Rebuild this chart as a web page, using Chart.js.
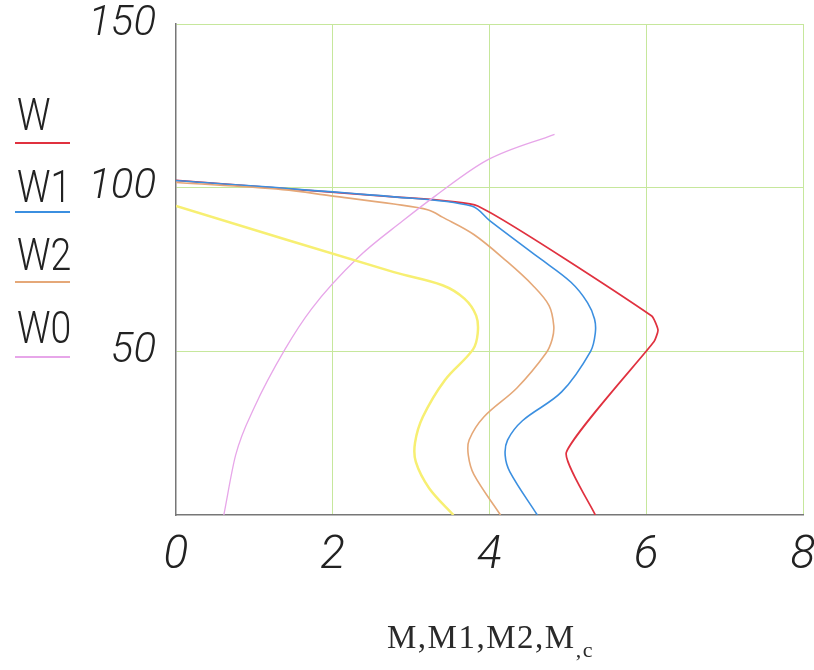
<!DOCTYPE html>
<html>
<head>
<meta charset="utf-8">
<script src="https://cdn.jsdelivr.net/npm/chart.js@4/dist/chart.umd.min.js"></script>
<style>
  body { margin: 0; background: #fff; }
  #wrap { position: relative; width: 814px; height: 670px; }
  canvas { position: absolute; left: 0; top: 0; }
  .lg { position: absolute; left: 17px; font-family: Roboto, "DejaVu Sans Condensed", sans-serif; font-weight: 300;
        font-size: 44px; line-height: 44px; color: #222; transform: scaleX(0.85); transform-origin: left top; }
  .ln { position: absolute; left: 15px; width: 55px; height: 2px; }
  #xtitle { position: absolute; left: 387px; top: 621px; font-family: "Liberation Serif", "DejaVu Serif", serif;
            font-size: 33px; line-height: 33px; color: #2a2a2a; letter-spacing: 1.5px; white-space: nowrap; }
  #xtitle sub { font-size: 22px; vertical-align: -9px; }
</style>
</head>
<body>
<div id="wrap">
  <canvas id="chart" width="814" height="670"></canvas>
  <div class="lg" style="top:93px">W</div>
  <div class="ln" style="top:142px;background:#e0313f"></div>
  <div class="lg" style="top:165px">W1</div>
  <div class="ln" style="top:211px;background:#3b8fe0"></div>
  <div class="lg" style="top:233px">W2</div>
  <div class="ln" style="top:281px;background:#e5a878"></div>
  <div class="lg" style="top:306px">W0</div>
  <div class="ln" style="top:356px;background:#e7a6e9"></div>
  <div id="xtitle">M,M1,M2,M<sub>,c</sub></div>
</div>
<script>
// values (M on x, W on y)
var xTicks = [0, 2, 4, 6, 8];
var yTicks = [0, 50, 100, 150];

var wM  = [0, 2.78, 3.85, 6.07, 6.15, 6.10, 4.98, 5.35];
var wW  = [102.2, 97.2, 94.4, 60.8, 56.5, 53.0, 19.1, 0];

var w1M = [0, 2.78, 3.77, 4.01, 4.63, 5.04, 5.25, 5.34, 5.35, 5.29, 4.92, 4.42, 4.23, 4.20, 4.26, 4.61];
var w1W = [102.2, 97.2, 94.4, 89.8, 78.6, 71.1, 64.9, 59.9, 55.6, 50.0, 37.6, 28.8, 22.9, 18.2, 13.2, 0];

var w2M = [0, 1.36, 1.98, 2.78, 3.22, 3.40, 3.80, 4.23, 4.55, 4.76, 4.82, 4.80, 4.72, 4.35, 3.93, 3.74, 3.73, 3.80, 4.14];
var w2W = [101.6, 99.4, 97.5, 95.0, 93.2, 91.0, 85.7, 77.3, 70.2, 64.0, 57.8, 53.7, 49.4, 38.8, 30.0, 22.9, 18.2, 12.4, 0];

var wyM = [0, 2.78, 3.40, 3.68, 3.83, 3.85, 3.79, 3.43, 3.15, 3.05, 3.06, 3.23, 3.54];
var wyW = [94.4, 74.2, 70.2, 66.1, 60.9, 55.6, 50.6, 41.2, 30.0, 22.1, 16.2, 8.2, 0];

var w0M = [0.61, 0.76, 1.00, 1.39, 1.73, 2.32, 2.89, 3.31, 3.97, 4.83];
var w0W = [0, 18.2, 32.9, 50.6, 63.0, 78.6, 89.8, 97.5, 108.4, 116.3];

function pts(m, w) {
    var out = [];
    for (var i = 0; i < m.length; i++) out.push({ x: m[i], y: w[i] });
    return out;
}

var gridGreen = '#c6e79c';
var tickFont = 'Roboto, "DejaVu Sans Condensed", sans-serif';

var ctx = document.getElementById('chart').getContext('2d');
new Chart(ctx, {
    type: 'scatter',
    data: {
        datasets: [
            { label: 'yellow', data: pts(wyM, wyW), borderColor: '#f7ef72', borderWidth: 2.5, tension: 0.35 },
            { label: 'W0', data: pts(w0M, w0W), borderColor: '#e7a6e9', borderWidth: 1.3, cubicInterpolationMode: 'monotone' },
            { label: 'W2', data: pts(w2M, w2W), borderColor: '#e5a878', borderWidth: 1.6, tension: 0.35 },
            { label: 'W1', data: pts(w1M, w1W), borderColor: '#3b8fe0', borderWidth: 1.6, tension: 0.35 },
            { label: 'W', data: pts(wM, wW), borderColor: '#e0313f', borderWidth: 1.7, tension: 0.15 }
        ].map(function (d) {
            d.showLine = true;
            d.pointRadius = 0;
            d.fill = false;
            return d;
        })
    },
    options: {
        responsive: false,
        animation: false,
        layout: { padding: { top: 24, right: 11, left: 0, bottom: 0 } },
        plugins: { legend: { display: false }, tooltip: { enabled: false } },
        scales: {
            x: {
                type: 'linear', min: xTicks[0], max: xTicks[xTicks.length - 1],
                afterBuildTicks: function (s) { s.ticks = xTicks.map(function (v) { return { value: v }; }); },
                ticks: { autoSkip: false, maxRotation: 0, padding: 14, color: '#222',
                         font: { family: tickFont, size: 46, style: 'italic', weight: 300 } },
                grid: { drawTicks: false, lineWidth: 1,
                        color: function (c) { return c.tick && c.tick.value === 0 ? 'rgba(0,0,0,0)' : gridGreen; } },
                border: { color: '#777', width: 1.5 },
                afterFit: function (s) { s.height = 155; s.paddingLeft = 0; s.paddingRight = 0; }
            },
            y: {
                type: 'linear', min: yTicks[0], max: yTicks[yTicks.length - 1],
                afterBuildTicks: function (s) { s.ticks = yTicks.map(function (v) { return { value: v }; }); },
                ticks: { autoSkip: false, padding: 20, color: '#222',
                         font: { family: tickFont, size: 42, style: 'italic', weight: 300 },
                         callback: function (v) { return v === 0 ? '' : v; } },
                grid: { drawTicks: false, lineWidth: 1,
                        color: function (c) { return c.tick && c.tick.value === 0 ? 'rgba(0,0,0,0)' : gridGreen; } },
                border: { color: '#777', width: 1.5 },
                afterFit: function (s) { s.width = 176; s.paddingTop = 0; s.paddingBottom = 0; }
            }
        }
    }
});
</script>
</body>
</html>
